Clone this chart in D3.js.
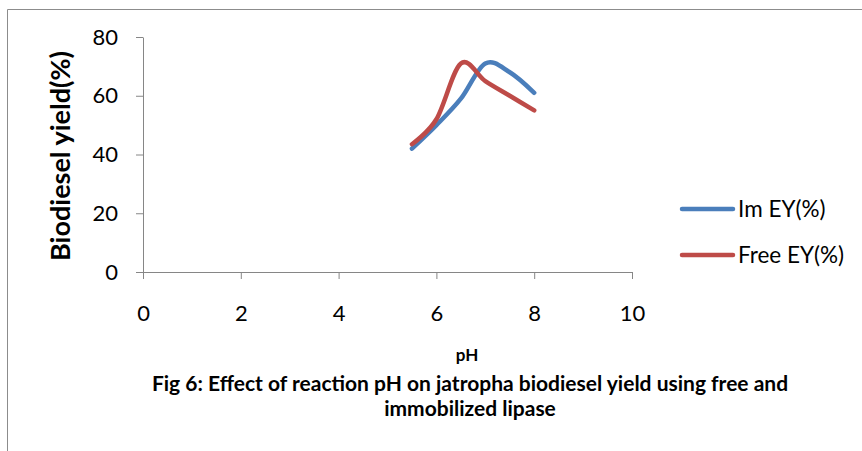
<!DOCTYPE html>
<html>
<head>
<meta charset="utf-8">
<script src="https://cdn.jsdelivr.net/npm/d3@7"></script>
<style>
  body { margin: 0; background: #fff; }
  svg { display: block; font-family: Lato, "Open Sans", sans-serif; }
  .axis path, .axis line { stroke: #868686; }
  .axis text { font-size: 22px; fill: #000; font-family: Lato, sans-serif; }
</style>
</head>
<body>
<div id="chart"></div>
<script>
// values
const ph = [5.5, 6, 6.5, 7, 7.5, 8];
const imEY = [42, 50, 59, 71, 68, 61];
const freeEY = [43.5, 52, 71, 65, 60, 55];
const xTicks = [0, 2, 4, 6, 8, 10];
const yTicks = [0, 20, 40, 60, 80];
const seriesNames = ['Im EY(%)', 'Free EY(%)'];
const seriesColors = ['#4A7EBB', '#BE4B48'];

const width = 862;
const height = 451;

const svg = d3.select('#chart').append('svg')
    .attr('width', width)
    .attr('height', height);

// chart frame (only left and top edges are visible in the crop)
svg.append('path')
    .attr('d', `M7.5,${height} V9.5 H${width}`)
    .attr('fill', 'none')
    .attr('stroke', '#8c8c8c');

const xScale = d3.scaleLinear().domain([0, 10]).range([143, 632]);
const yScale = d3.scaleLinear().domain([0, 80]).range([272, 37]);

svg.append('g')
    .attr('class', 'axis')
    .attr('transform', `translate(0, ${yScale(0)})`)
    .call(d3.axisBottom(xScale).tickValues(xTicks).tickSize(7).tickSizeOuter(0).tickPadding(26));

svg.append('g')
    .attr('class', 'axis')
    .attr('transform', `translate(${xScale(0)}, 0)`)
    .call(d3.axisLeft(yScale).tickValues(yTicks).tickSize(7).tickSizeOuter(0).tickPadding(18));

const series = [imEY, freeEY];
const line = d3.line()
    .x((d, i) => xScale(ph[i]))
    .y(d => yScale(d))
    .curve(d3.curveCardinal.tension(0));

svg.append('g').selectAll('path')
    .data(series)
    .join('path')
    .attr('d', d => line(d))
    .attr('fill', 'none')
    .attr('stroke', (d, i) => seriesColors[i])
    .attr('stroke-width', 4.5)
    .attr('stroke-linecap', 'round')
    .attr('stroke-linejoin', 'round');

// legend
const legend = svg.append('g').selectAll('g')
    .data(seriesNames)
    .join('g')
    .attr('transform', (d, i) => `translate(682, ${209 + i * 46})`);

legend.append('line')
    .attr('x1', 0).attr('x2', 51)
    .attr('stroke', (d, i) => seriesColors[i])
    .attr('stroke-width', 4.5)
    .attr('stroke-linecap', 'round');

legend.append('text')
    .attr('x', 56)
    .attr('dy', '0.35em')
    .style('font-size', '22.5px')
    .text(d => d);

// y axis title
svg.append('text')
    .attr('transform', 'translate(70, 156) rotate(-90)')
    .attr('text-anchor', 'middle')
    .style('font-size', '27px')
    .style('font-weight', 'bold')
    .text('Biodiesel yield(%)');

// x axis title and caption
svg.append('text')
    .attr('x', 467).attr('y', 361)
    .attr('text-anchor', 'middle')
    .style('font-size', '17px')
    .style('font-weight', 'bold')
    .text('pH');

const caption = svg.append('text')
    .attr('text-anchor', 'middle')
    .style('font-size', '21px')
    .style('font-weight', 'bold');
caption.append('tspan').attr('x', 470).attr('y', 391)
    .text('Fig 6: Effect of reaction pH on jatropha biodiesel yield using free and');
caption.append('tspan').attr('x', 470).attr('y', 416)
    .text('immobilized lipase');
</script>
</body>
</html>
